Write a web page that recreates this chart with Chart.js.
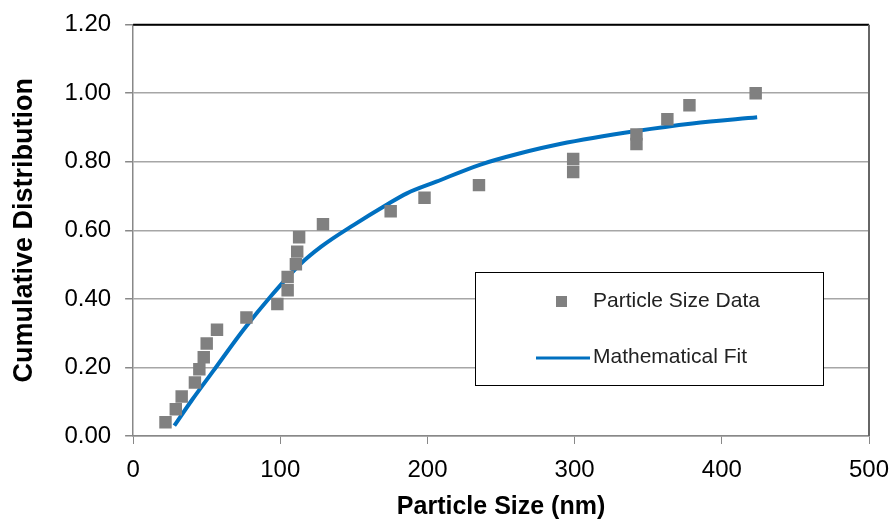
<!DOCTYPE html>
<html>
<head>
<meta charset="utf-8">
<title>Cumulative Distribution</title>
<script src="https://cdn.jsdelivr.net/npm/chart.js@4.4.1/dist/chart.umd.min.js"></script>
<style>
  body { margin: 0; background: #fff; }
  #wrap { width: 894px; height: 521px; }
</style>
</head>
<body>
<div id="wrap"><canvas id="myChart" width="894" height="521"></canvas></div>
<script>
// measured particle sizes (nm) and cumulative fraction
const sizeX = [22, 29, 33, 42, 45, 48, 50, 57, 77, 98, 105, 105, 110.6, 111.5, 112.8, 129, 175, 198, 235, 299, 299, 342, 342, 363, 378, 423];
const sizeY = [0.04, 0.078, 0.115, 0.156, 0.195, 0.23, 0.27, 0.31, 0.346, 0.385, 0.425, 0.464, 0.501, 0.538, 0.58, 0.618, 0.656, 0.695, 0.732, 0.77, 0.808, 0.852, 0.88, 0.924, 0.965, 1.0];

// fitted curve
const fitX = [28, 40, 55, 75, 94, 113, 128, 150, 172, 186, 206, 236, 263, 290, 342, 380, 424];
const fitY = [0.03, 0.105, 0.193, 0.31, 0.41, 0.499, 0.553, 0.616, 0.674, 0.708, 0.742, 0.792, 0.825, 0.852, 0.89, 0.912, 0.93];

const xTicks = [0, 100, 200, 300, 400, 500];
const yTicks = [0, 0.2, 0.4, 0.6, 0.8, 1.0, 1.2];

const seriesNames = ['Particle Size Data', 'Mathematical Fit'];

const gray = '#808080';
const blue = '#0070C0';

const toPoints = (xs, ys) => xs.map((x, i) => ({ x: x, y: ys[i] }));

// legend box inside the plot, like the Excel original
const boxLegend = {
    id: 'boxLegend',
    afterDraw(chart) {
        const ctx = chart.ctx;
        const left = 475, top = 272, w = 348, h = 113;
        ctx.save();
        ctx.fillStyle = '#fff';
        ctx.fillRect(left, top, w, h);
        ctx.strokeStyle = '#000';
        ctx.lineWidth = 1;
        ctx.strokeRect(left + 0.5, top + 0.5, w, h);

        ctx.font = '21px "Liberation Sans", Arial, sans-serif';
        ctx.textBaseline = 'middle';

        // square marker
        ctx.fillStyle = gray;
        ctx.fillRect(556, 296, 11, 11);
        ctx.fillStyle = '#222';
        ctx.fillText(seriesNames[0], 593, 301);

        // line marker
        ctx.strokeStyle = blue;
        ctx.lineWidth = 3;
        ctx.beginPath();
        ctx.moveTo(536, 358);
        ctx.lineTo(590, 358);
        ctx.stroke();
        ctx.fillStyle = '#222';
        ctx.fillText(seriesNames[1], 593, 357);
        ctx.restore();
    }
};

// black top edge and grey right edge of the plot area
const plotEdges = {
    id: 'plotEdges',
    beforeDatasetsDraw(chart) {
        const a = chart.chartArea;
        const ctx = chart.ctx;
        ctx.save();
        ctx.lineWidth = 2;
        ctx.strokeStyle = '#000';
        ctx.beginPath();
        ctx.moveTo(a.left, a.top);
        ctx.lineTo(a.right, a.top);
        ctx.stroke();
        ctx.strokeStyle = '#666';
        ctx.beginPath();
        ctx.moveTo(a.right, a.top);
        ctx.lineTo(a.right, a.bottom);
        ctx.stroke();
        ctx.restore();
    }
};

Chart.defaults.font.family = '"Liberation Sans", Arial, sans-serif';
Chart.defaults.color = '#000';

const ctx = document.getElementById('myChart').getContext('2d');
const myChart = new Chart(ctx, {
    type: 'scatter',
    data: {
        datasets: [
            {
                label: seriesNames[0],
                data: toPoints(sizeX, sizeY),
                pointStyle: 'rect',
                pointRadius: 8.8,
                pointHoverRadius: 8.8,
                backgroundColor: gray,
                borderColor: gray,
                borderWidth: 0,
                showLine: false
            },
            {
                label: seriesNames[1],
                data: toPoints(fitX, fitY),
                showLine: true,
                borderColor: blue,
                borderWidth: 4,
                pointRadius: 0,
                tension: 0.4,
                cubicInterpolationMode: 'monotone'
            }
        ]
    },
    options: {
        responsive: false,
        animation: false,
        layout: {
            padding: { left: 8, right: 0, top: 0, bottom: 0 }
        },
        plugins: {
            legend: { display: false },
            tooltip: { enabled: false }
        },
        scales: {
            x: {
                type: 'linear',
                min: 0,
                max: 500,
                afterBuildTicks: axis => { axis.ticks = xTicks.map(v => ({ value: v })); },
                afterFit: axis => {
                    axis.height = 85;
                    axis.paddingRight = 25;
                },
                ticks: {
                    font: { size: 24 },
                    padding: 12,
                    maxRotation: 0
                },
                grid: {
                    display: true,
                    drawOnChartArea: false,
                    drawTicks: true,
                    tickLength: 8,
                    color: '#888'
                },
                border: { color: '#888', width: 1.5 },
                title: {
                    display: true,
                    text: 'Particle Size (nm)',
                    font: { size: 25, weight: 'bold', lineHeight: 1.0 },
                    padding: { top: 0, bottom: 1 }
                }
            },
            y: {
                type: 'linear',
                min: 0,
                max: 1.2,
                afterBuildTicks: axis => { axis.ticks = yTicks.map(v => ({ value: v })); },
                afterFit: axis => {
                    axis.paddingTop = 24.7;
                },
                ticks: {
                    font: { size: 24 },
                    padding: 14,
                    callback: v => v.toFixed(2)
                },
                grid: {
                    color: '#A6A6A6',
                    lineWidth: 1.5,
                    tickLength: 8,
                    tickColor: '#888'
                },
                border: { color: '#888', width: 1.5 },
                title: {
                    display: true,
                    text: 'Cumulative Distribution',
                    font: { size: 27, weight: 'bold' },
                    padding: { top: 0, bottom: 10 }
                }
            }
        }
    },
    plugins: [plotEdges, boxLegend]
});
</script>
</body>
</html>
